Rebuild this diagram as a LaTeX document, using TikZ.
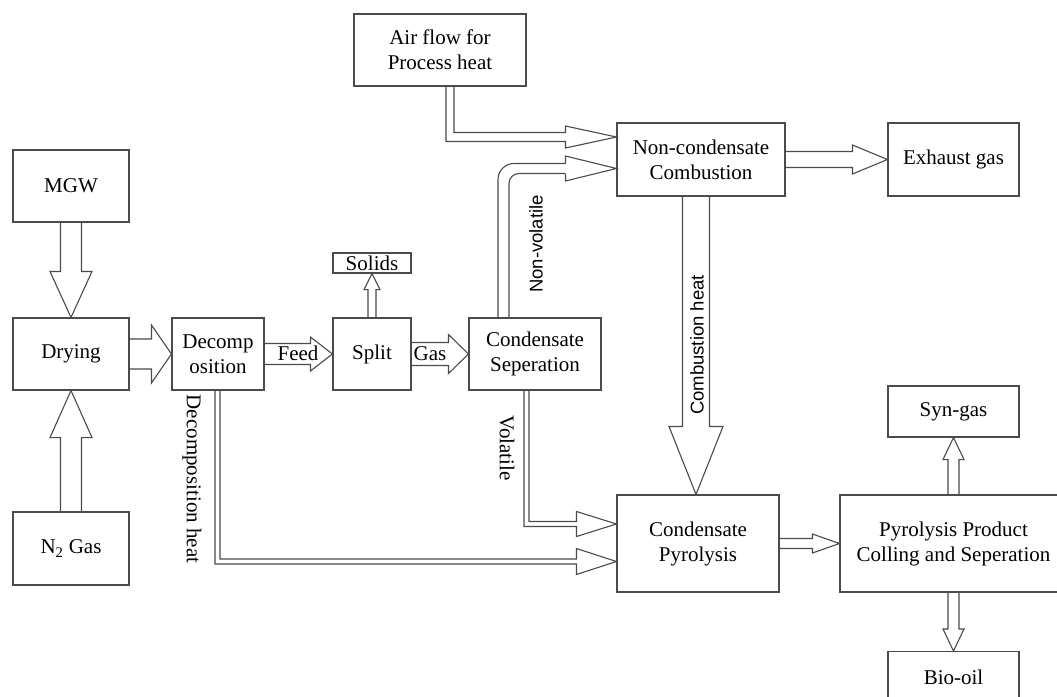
\documentclass[tikz,border=0pt]{standalone}
\usepackage{fontspec}
\setmainfont{Liberation Serif}
\newfontfamily\sansf{Liberation Sans}
\usetikzlibrary{calc}
\definecolor{linec}{RGB}{75,75,75}
\tikzset{
 box/.style={draw=linec, line width=1.1pt, fill=white, inner sep=0pt, align=center, font=\fontsize{21}{25}\selectfont},
 conn/.style={draw=linec, line width=1.1pt, line join=miter},
 lbl/.style={inner sep=0pt, font=\fontsize{21}{25}\selectfont},
 slbl/.style={inner sep=0pt, font=\sansf\fontsize{18.5}{22}\selectfont},
}
% block arrows: #1 start, #2 tip, #3 shaft half width, #4 head half width, #5 head length
\newcommand\arrR[5]{\draw[conn] let \p1=(#1),\p2=(#2) in (\x1,\y2+#3pt) -- (\x2-#5pt,\y2+#3pt) -- (\x2-#5pt,\y2+#4pt) -- (\x2,\y2) -- (\x2-#5pt,\y2-#4pt) -- (\x2-#5pt,\y2-#3pt) -- (\x1,\y2-#3pt);}
\newcommand\arrD[5]{\draw[conn] let \p1=(#1),\p2=(#2) in (\x2-#3pt,\y1) -- (\x2-#3pt,\y2+#5pt) -- (\x2-#4pt,\y2+#5pt) -- (\x2,\y2) -- (\x2+#4pt,\y2+#5pt) -- (\x2+#3pt,\y2+#5pt) -- (\x2+#3pt,\y1);}
\newcommand\arrU[5]{\draw[conn] let \p1=(#1),\p2=(#2) in (\x2-#3pt,\y1) -- (\x2-#3pt,\y2-#5pt) -- (\x2-#4pt,\y2-#5pt) -- (\x2,\y2) -- (\x2+#4pt,\y2-#5pt) -- (\x2+#3pt,\y2-#5pt) -- (\x2+#3pt,\y1);}
\begin{document}
\begin{tikzpicture}[x=1pt,y=-1pt]
\useasboundingbox[fill=white] (0,0) rectangle (1057,696);
% boxes
\node[box, minimum width=172pt, minimum height=72pt] (air) at (440,50) {Air flow for\\Process heat};
\node[box, minimum width=116pt, minimum height=72pt] (mgw) at (71,186) {MGW};
\node[box, minimum width=116pt, minimum height=72pt] (dry) at (71,354) {Drying};
\node[box, minimum width=116pt, minimum height=73pt] (n2) at (71,548.5) {N\textsubscript{2} Gas};
\node[box, minimum width=92pt, minimum height=72pt] (dec) at (218,354) {Decomp\\osition};
\node[box, minimum width=78pt, minimum height=72pt] (split) at (372,354) {Split};
\node[box, minimum width=78pt, minimum height=20pt] (solids) at (372,263) {Solids};
\node[box, minimum width=132pt, minimum height=72pt] (csep) at (535,354) {Condensate\\Seperation};
\node[box, minimum width=168pt, minimum height=73pt] (comb) at (701,159.5) {Non-condensate\\Combustion};
\node[box, minimum width=131pt, minimum height=73pt] (exh) at (953.5,159.5) {Exhaust gas};
\node[box, minimum width=162pt, minimum height=97pt] (cpyr) at (698,543.5) {Condensate\\Pyrolysis};
\node[box, minimum width=227pt, minimum height=97pt] (ppc) at (953.5,543.5) {Pyrolysis Product\\Colling and Seperation};
\node[box, minimum width=131pt, minimum height=51pt] (syn) at (953.5,411.5) {Syn-gas};
\node[box, minimum width=131pt, minimum height=51pt, anchor=north] (bio) at (953.5,651) {Bio-oil};
% straight block arrows
\arrD{mgw.south}{dry.north}{10.5}{21}{46}
\arrU{n2.north}{dry.south}{10.5}{21}{47}
\arrR{dry.east}{dec.west}{15}{29}{20}
\arrR{dec.east}{split.west}{10.5}{17}{22}
\arrR{split.east}{csep.west}{11.5}{19.5}{20}
\arrU{split.north}{solids.south}{4}{8}{16}
\arrR{comb.east}{exh.west}{8}{14.5}{35}
\coordinate (ch) at ($(cpyr.north)+(-2,0)$);
\arrD{comb.south}{ch}{13.5}{27}{68}
\arrR{cpyr.east}{ppc.west}{5}{9.5}{27}
\arrU{ppc.north}{syn.south}{5.5}{10.5}{22}
\arrD{ppc.south}{bio.north}{5.5}{10.5}{22}
% elbow arrows
\coordinate (at) at ($(comb.west)+(0,-22.5)$);
\draw[conn] ($(air.south)+(6,0)$) |- ($(at)+(-51,4.5)$) -- ($(at)+(-51,11)$) -- (at) -- ($(at)+(-51,-11)$) -- ($(at)+(-51,-4.5)$) -| ($(air.south)+(14,0)$);
\coordinate (nt) at ($(comb.west)+(0,9)$);
\draw[conn, rounded corners=16pt] ($(csep.north)+(-37,0)$) |- ($(nt)+(-51,-5)$);
\draw[conn, rounded corners=10pt] ($(csep.north)+(-26,0)$) |- ($(nt)+(-51,5)$);
\draw[conn] ($(nt)+(-51,-5)$) -- ($(nt)+(-51,-12.5)$) -- (nt) -- ($(nt)+(-51,12.5)$) -- ($(nt)+(-51,5)$);
\coordinate (vt) at ($(cpyr.west)+(0,-19.5)$);
\draw[conn] ($(csep.south)+(-11,0)$) |- ($(vt)+(-40,2.5)$) -- ($(vt)+(-40,12.5)$) -- (vt) -- ($(vt)+(-40,-12.5)$) -- ($(vt)+(-40,-2.5)$) -| ($(csep.south)+(-6,0)$);
\coordinate (dt) at ($(cpyr.west)+(0,18)$);
\draw[conn] ($(dec.south)+(-3,0)$) |- ($(dt)+(-40,2.5)$) -- ($(dt)+(-40,13)$) -- (dt) -- ($(dt)+(-40,-13)$) -- ($(dt)+(-40,-2.5)$) -| ($(dec.south)+(2,0)$);
% labels
\node[lbl] (lfeed) at (298,353) {Feed};
\node[lbl] (lgas) at (430,354) {Gas};
\node[lbl, rotate=-90] (ldh) at (192,479) {Decomposition heat};
\node[lbl, rotate=-90] (lvol) at (507,448) {Volatile};
\node[slbl, rotate=90] (lnv) at (536,244) {Non-volatile};
\node[slbl, rotate=90] (lch) at (697,345) {Combustion heat};
\end{tikzpicture}
\end{document}
